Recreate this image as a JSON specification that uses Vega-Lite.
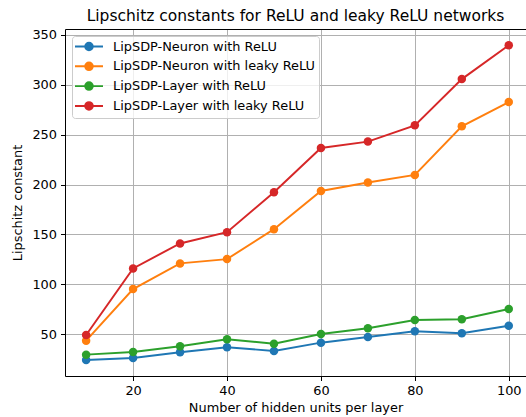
{
  "$schema": "https://vega.github.io/schema/vega-lite/v6.json",
  "width": 461,
  "height": 347,
  "autosize": {"type": "none"},
  "padding": {"left": 65, "top": 29, "right": 0, "bottom": 41},
  "background": "white",
  "config": {
    "font": "DejaVu Sans",
    "view": {"stroke": null},
    "axis": {
      "domainColor": "#000000",
      "domainWidth": 1,
      "tickColor": "#000000",
      "tickWidth": 1,
      "tickSize": 4.5,
      "labelFont": "DejaVu Sans",
      "labelFontSize": 12.9,
      "labelColor": "#000000",
      "labelPadding": 4,
      "titleFont": "DejaVu Sans",
      "titleFontSize": 12.9,
      "titleFontWeight": "normal",
      "titleColor": "#000000",
      "gridColor": "#b0b0b0",
      "gridWidth": 1,
      "gridOpacity": 1
    }
  },
  "title": {
    "text": "Lipschitz constants for ReLU and leaky ReLU networks",
    "font": "DejaVu Sans",
    "fontSize": 15.5,
    "fontWeight": "normal",
    "color": "#000000",
    "offset": 4
  },
  "resolve": {"axis": {"x": "independent"}},
  "data": {
    "values": [
      {"units": 10, "series": "LipSDP-Neuron with ReLU", "value": 24.3},
      {"units": 20, "series": "LipSDP-Neuron with ReLU", "value": 26.3},
      {"units": 30, "series": "LipSDP-Neuron with ReLU", "value": 32},
      {"units": 40, "series": "LipSDP-Neuron with ReLU", "value": 37},
      {"units": 50, "series": "LipSDP-Neuron with ReLU", "value": 33.3},
      {"units": 60, "series": "LipSDP-Neuron with ReLU", "value": 41.6},
      {"units": 70, "series": "LipSDP-Neuron with ReLU", "value": 47.3},
      {"units": 80, "series": "LipSDP-Neuron with ReLU", "value": 53},
      {"units": 90, "series": "LipSDP-Neuron with ReLU", "value": 51},
      {"units": 100, "series": "LipSDP-Neuron with ReLU", "value": 58.6},
      {"units": 10, "series": "LipSDP-Neuron with leaky ReLU", "value": 43.6},
      {"units": 20, "series": "LipSDP-Neuron with leaky ReLU", "value": 95.3},
      {"units": 30, "series": "LipSDP-Neuron with leaky ReLU", "value": 121},
      {"units": 40, "series": "LipSDP-Neuron with leaky ReLU", "value": 125.3},
      {"units": 50, "series": "LipSDP-Neuron with leaky ReLU", "value": 155.3},
      {"units": 60, "series": "LipSDP-Neuron with leaky ReLU", "value": 193.6},
      {"units": 70, "series": "LipSDP-Neuron with leaky ReLU", "value": 202},
      {"units": 80, "series": "LipSDP-Neuron with leaky ReLU", "value": 209.6},
      {"units": 90, "series": "LipSDP-Neuron with leaky ReLU", "value": 258.3},
      {"units": 100, "series": "LipSDP-Neuron with leaky ReLU", "value": 282.6},
      {"units": 10, "series": "LipSDP-Layer with ReLU", "value": 29.6},
      {"units": 20, "series": "LipSDP-Layer with ReLU", "value": 32.3},
      {"units": 30, "series": "LipSDP-Layer with ReLU", "value": 38},
      {"units": 40, "series": "LipSDP-Layer with ReLU", "value": 45},
      {"units": 50, "series": "LipSDP-Layer with ReLU", "value": 40.6},
      {"units": 60, "series": "LipSDP-Layer with ReLU", "value": 50.3},
      {"units": 70, "series": "LipSDP-Layer with ReLU", "value": 56},
      {"units": 80, "series": "LipSDP-Layer with ReLU", "value": 64.3},
      {"units": 90, "series": "LipSDP-Layer with ReLU", "value": 65},
      {"units": 100, "series": "LipSDP-Layer with ReLU", "value": 75.3},
      {"units": 10, "series": "LipSDP-Layer with leaky ReLU", "value": 49.3},
      {"units": 20, "series": "LipSDP-Layer with leaky ReLU", "value": 116},
      {"units": 30, "series": "LipSDP-Layer with leaky ReLU", "value": 141},
      {"units": 40, "series": "LipSDP-Layer with leaky ReLU", "value": 152.3},
      {"units": 50, "series": "LipSDP-Layer with leaky ReLU", "value": 192.3},
      {"units": 60, "series": "LipSDP-Layer with leaky ReLU", "value": 236.6},
      {"units": 70, "series": "LipSDP-Layer with leaky ReLU", "value": 243},
      {"units": 80, "series": "LipSDP-Layer with leaky ReLU", "value": 259.3},
      {"units": 90, "series": "LipSDP-Layer with leaky ReLU", "value": 305.6},
      {"units": 100, "series": "LipSDP-Layer with leaky ReLU", "value": 339.6}
    ]
  },
  "layer": [
    {
      "mark": {"type": "line", "strokeWidth": 1.95},
      "encoding": {
        "x": {
          "field": "units",
          "type": "quantitative",
          "scale": {"domain": [5.5, 103.67], "nice": false, "zero": false},
          "axis": {"orient": "bottom", "values": [20, 40, 60, 80, 100], "grid": true, "title": "Number of hidden units per layer", "titlePadding": 4}
        },
        "y": {
          "field": "value",
          "type": "quantitative",
          "scale": {"domain": [8.2, 355.8], "nice": false, "zero": false},
          "axis": {"values": [50, 100, 150, 200, 250, 300, 350], "grid": true, "title": "Lipschitz constant", "titlePadding": 7}
        },
        "color": {
          "field": "series",
          "type": "nominal",
          "sort": null,
          "scale": {
            "domain": ["LipSDP-Neuron with ReLU", "LipSDP-Neuron with leaky ReLU", "LipSDP-Layer with ReLU", "LipSDP-Layer with leaky ReLU"],
            "range": ["#1f77b4", "#ff7f0e", "#2ca02c", "#d62728"]
          },
          "legend": {
            "orient": "top-left",
            "title": null,
            "offset": 7,
            "padding": 4,
            "symbolType": "M-1.364,0H3.727M0.49,0A0.69,0.69 0 1,0 1.87,0A0.69,0.69 0 1,0 0.49,0",
            "symbolSize": 121,
            "symbolStrokeWidth": 1.95,
            "labelOffset": 24,
            "labelLimit": 400,
            "labelFont": "DejaVu Sans",
            "labelFontSize": 12.9,
            "labelColor": "#000000",
            "rowPadding": 2.8,
            "fillColor": "rgba(255,255,255,0.8)",
            "strokeColor": "#cccccc",
            "cornerRadius": 3
          }
        }
      }
    },
    {
      "mark": {"type": "point", "filled": true, "size": 72, "opacity": 1},
      "encoding": {
        "x": {
          "field": "units",
          "type": "quantitative",
          "axis": {"orient": "top", "labels": false, "ticks": false, "grid": false, "title": null, "domain": true}
        },
        "y": {"field": "value", "type": "quantitative"},
        "color": {"field": "series", "type": "nominal", "sort": null}
      }
    }
  ]
}
